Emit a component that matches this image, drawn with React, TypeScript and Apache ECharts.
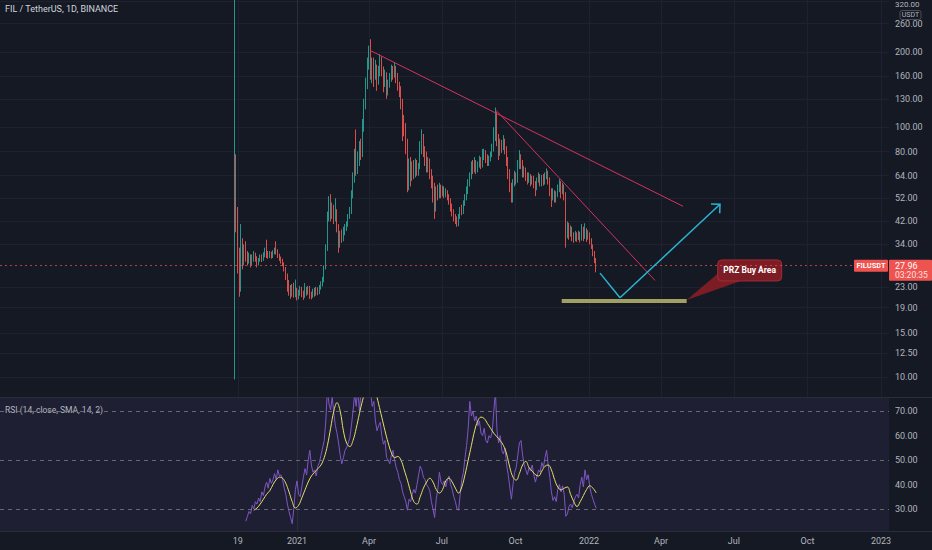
import React, { useEffect, useRef } from "react";
import * as echarts from "echarts";

// ---- data (days counted from 2021-01-01) ----
const startDay = -78; // 2020-10-15, first candle
const stepDays = 2; // each candle covers two days
// [open, close, low, high]
const candles: number[][] = [
  [10, 75, 9.8, 340], [75, 45, 38, 78], [45, 30, 26, 48], [30, 25, 21, 33], [25, 34, 22, 41],
  [34, 30, 27, 36], [30, 32, 28, 34], [32, 31, 29, 35], [31, 29.5, 28, 32], [29.5, 30.5, 28.5, 31.5],
  [30.5, 29, 27.5, 31], [29, 30, 28, 31], [30, 31, 29, 32], [31, 29.8, 29, 31.5], [29.8, 28.5, 27.5, 30.5],
  [28.5, 29.5, 28, 30], [29.5, 30.2, 29, 31], [30.2, 29.6, 28.9, 31], [29.6, 30.8, 29.2, 31.6], [30.8, 32, 30.2, 33],
  [32, 31, 30, 35.5], [31, 30.5, 29.8, 32], [30.5, 31.2, 30, 32], [31.2, 30.4, 29.8, 31.8], [30.4, 31.5, 30, 32.2],
  [31.5, 32.4, 31, 33], [32.4, 31.8, 31, 35], [31.8, 30.6, 30, 32.5], [30.6, 29.8, 29.2, 31.2], [29.8, 29.2, 28.5, 30.4],
  [29.2, 28.4, 27.8, 29.8], [28.4, 27.2, 26.5, 28.8], [27.2, 25.5, 24.5, 27.6], [25.5, 23.2, 22, 26], [23.2, 22.4, 21.2, 24.5],
  [22.4, 21.6, 20.6, 23.4], [21.6, 22.8, 21, 23.6], [22.8, 21.4, 20.8, 23.9], [21.4, 22.2, 20.9, 24.6], [22.2, 21, 20.3, 22.8],
  [21, 21.8, 20.5, 22.4], [21.8, 22.6, 21.2, 23.2], [22.6, 21.5, 20.9, 23], [21.5, 21.2, 20.4, 22.2], [21.2, 22.4, 20.8, 23.8],
  [22.4, 21.8, 21.2, 23], [21.8, 22.6, 21.4, 23.2], [22.6, 21.4, 20.6, 23.2], [21.4, 21.1, 20.5, 22], [21.1, 22.1, 20.8, 22.6],
  [22.1, 21.5, 21, 22.8], [21.5, 22.3, 21.2, 23], [22.3, 21.8, 21.3, 22.9], [21.8, 22.8, 21.5, 23.4], [22.8, 23.6, 22.4, 24.2],
  [23.6, 24.5, 23.1, 25.2], [24.5, 27.5, 24, 28], [27.5, 33, 27, 34], [33, 44, 32, 46], [44, 50, 42, 53],
  [50, 45, 42, 54], [45, 47, 43, 50], [47, 43, 41, 49], [43, 46, 42, 52], [46, 40, 38, 47],
  [40, 34, 31.5, 41], [34, 37, 33, 38.5], [37, 36, 34.5, 39], [36, 38, 35, 40], [38, 39.5, 37, 41],
  [39.5, 41, 38.5, 42], [41, 44, 40, 45], [44, 46, 43, 48], [46, 54, 45, 56], [54, 62, 52, 66],
  [62, 78, 60, 82], [78, 68, 64, 98], [68, 72, 65, 80], [72, 80, 70, 88], [80, 78, 74, 90],
  [78, 100, 76, 108], [100, 122, 96, 130], [122, 150, 118, 158], [150, 178, 142, 190], [178, 200, 170, 212],
  [200, 165, 155, 225], [165, 180, 150, 190], [180, 160, 145, 190], [160, 172, 155, 186], [172, 152, 140, 178],
  [152, 165, 148, 176], [165, 185, 160, 196], [185, 170, 160, 192], [170, 150, 138, 175], [150, 160, 145, 170],
  [160, 140, 130, 166], [140, 148, 134, 155], [148, 158, 144, 165], [158, 170, 152, 178], [170, 162, 155, 176],
  [162, 172, 158, 182], [172, 160, 150, 176], [160, 150, 140, 165], [150, 142, 132, 152], [142, 125, 118, 146],
  [125, 108, 88, 130], [108, 100, 92, 112], [100, 88, 78, 104], [88, 62, 55, 90], [62, 72, 56, 75],
  [72, 64, 58, 76], [64, 70, 61, 73], [70, 66, 62, 74], [66, 72, 63, 75], [72, 68, 64, 74],
  [68, 70, 64, 72], [70, 80, 68, 88], [80, 92, 78, 98], [92, 80, 76, 94], [80, 76, 70, 84],
  [76, 70, 66, 80], [70, 73, 66, 76], [73, 66, 62, 75], [66, 62, 57, 68], [62, 58, 50, 64],
  [58, 48, 43, 60], [48, 56, 46, 58], [56, 54, 51, 59], [54, 57, 52, 60], [57, 55, 52, 59],
  [55, 56.5, 53, 58.5], [56.5, 54, 52, 58], [54, 55.5, 52.5, 57], [55.5, 53, 51, 56], [53, 51, 49, 54],
  [51, 48, 46, 52], [48, 46, 44, 49.5], [46, 44, 42, 47], [44, 42.5, 41, 45], [42.5, 41.5, 40, 44],
  [41.5, 44, 40.2, 45], [44, 47, 43, 48], [47, 46, 44.5, 49], [46, 50, 45, 51], [50, 52, 48.5, 54],
  [52, 56, 51, 58], [56, 60, 54, 62], [60, 64, 58, 66], [64, 70, 62, 73], [70, 68, 65, 74],
  [68, 72, 66, 76], [72, 67, 65, 74], [67, 71, 66, 73], [71, 74, 69, 77], [74, 70, 68, 76],
  [70, 76, 69, 82], [76, 79, 74, 82], [79, 75, 72, 81], [75, 72, 70, 78], [72, 75, 70, 77],
  [75, 78, 73, 80], [78, 82, 76, 86], [82, 92, 80, 100], [92, 110, 88, 120], [110, 90, 84, 115],
  [90, 80, 74, 94], [80, 86, 77, 90], [86, 83, 79, 89], [83, 88, 81, 93], [88, 82, 78, 90],
  [82, 74, 70, 84], [74, 66, 62, 76], [66, 58, 55, 68], [58, 54, 50, 60], [54, 60, 50, 62],
  [60, 64, 58, 67], [64, 62, 59, 66], [62, 70, 60, 74], [70, 76, 68, 81], [76, 72, 68, 78],
  [72, 66, 63, 74], [66, 68, 63, 70], [68, 64, 61, 69], [64, 62, 59, 66], [62, 64, 60, 66],
  [64, 60, 58, 65], [60, 62.5, 59, 64], [62.5, 60, 57, 64], [60, 57, 53, 61], [57, 62, 56, 63],
  [62, 64, 60, 66], [64, 60, 58, 65], [60, 63, 58, 64.5], [63, 61, 58.5, 65], [61, 64, 59, 66],
  [64, 66, 62, 68.5], [66, 62, 59, 67], [62, 56, 53, 63], [56, 53, 48, 57], [53, 55, 51, 57],
  [55, 52, 50, 56], [52, 54, 50, 55.5], [54, 57, 52.5, 59], [57, 60, 55, 62], [60, 56, 52, 61],
  [56, 58, 54, 60], [58, 54, 51, 59], [54, 38, 33, 55], [38, 40, 36, 42], [40, 38, 35.5, 41.5],
  [38, 39, 36.5, 40.5], [39, 37, 35, 40], [37, 36, 34.5, 38], [36, 37.5, 35, 38.5], [37.5, 36.2, 34.8, 38],
  [36.2, 37.5, 35.4, 38.6], [37.5, 36, 34.6, 38.2], [36, 38, 35.2, 41], [38, 36.5, 35, 40], [36.5, 38.5, 35.8, 41.3],
  [38.5, 36.5, 34.8, 39.5], [36.5, 37.5, 35.5, 38.8], [37.5, 35.5, 34, 38], [35.5, 33.5, 32.6, 36], [33.5, 31.5, 30.5, 34],
  [31.5, 29.5, 28.6, 32], [29.5, 27.96, 26.3, 30],
];
const lastPrice = 27.96;

// RSI(14), one value every 2 days, ending on the last candle
const rsiStep = 2;
const rsiValues = [
  25, 27, 29, 28, 31.5, 30, 33, 32, 34.5, 33,
  37, 35.5, 39, 41, 38.5, 42.5, 40.5, 42, 44.5, 42,
  46, 43.5, 44, 42, 38.5, 36, 32, 29, 26.5, 24,
  30, 38, 41.5, 36, 35, 39, 43, 46.5, 44, 50,
  54, 48, 45, 46, 43.5, 47.5, 49, 52, 55, 58,
  66, 79, 73, 70.5, 76, 69, 64, 61, 57, 52,
  48.5, 51, 54, 55, 57, 59, 64, 70, 77, 72,
  80, 70, 78, 81, 79, 83, 85, 84, 78, 72,
  74, 66, 62, 64, 65.5, 60, 56.5, 58, 51, 50,
  48.5, 52, 54, 50, 47, 45, 42, 40.5, 37, 35,
  33, 29.5, 34, 33, 36, 38, 36.5, 40, 44, 47.5,
  46, 43, 42, 40, 39, 37.5, 33, 30, 26.5, 34,
  38, 45, 41, 40, 41.5, 39, 42, 43.5, 40, 38,
  35, 33, 30, 29.5, 36, 42, 45, 51, 56, 63,
  74, 68, 70, 66, 68, 64, 66, 61, 60, 63,
  58, 57, 60, 59, 61.5, 70, 78, 62, 57, 60,
  54, 52.5, 55, 48, 44, 39, 34, 40, 45, 47,
  52, 57, 58, 52, 48, 46, 44, 47, 45.5, 48,
  44, 41, 43.5, 46, 45, 49, 47, 51, 54, 48,
  43, 37, 33.5, 35, 33, 38, 40, 37, 39.5, 36,
  27, 28, 31, 32, 30.5, 33, 35, 36, 34.5, 40,
  43, 39, 46, 42, 44, 39, 36, 34, 32, 30.3,
];
// SMA(14) of RSI, one value every 4 days, ending on the last candle
const rsiMaStep = 4;
const rsiMaValues = [
  29.5, 30.4, 32, 34, 36, 37.5, 40, 42, 43, 42.6,
  40.5, 37, 33, 30.4, 31.5, 34.5, 37.8, 41, 43.5, 45,
  46.5, 48, 51, 56, 63, 70, 73.5, 70, 62, 57,
  55.5, 58, 63, 69, 74.5, 79, 82, 81, 78, 73,
  67.5, 62, 57, 53, 51, 51.5, 50, 46, 41.8, 37,
  33, 32, 35, 38.5, 41, 42.6, 41, 38, 36.5, 38,
  41.5, 42.6, 41, 38.5, 36.5, 39, 44, 50, 56, 62,
  66, 67.6, 67, 65, 63, 61, 59.5, 58, 56, 52.5,
  47, 43, 41.8, 44.5, 48, 49.5, 47, 45.5, 44, 43.5,
  45.5, 47.5, 48, 46, 42, 39, 37.8, 38.5, 39, 36,
  33, 31, 33, 35.5, 38, 39.5, 38.5, 36.6,
];

const priceTicks = [10, 12.5, 15, 19, 23, 34, 42, 52, 64, 80, 100, 130, 160, 200, 260];
const topPriceTick = 320; // sits at the very top edge
const rsiTicks = [30, 40, 50, 60, 70];
const rsiBands = [70, 50, 30];
const timeTickDays = [-74, 0, 90, 181, 273, 365, 455, 546, 638, 730];
const timeTickLabels = ["19", "2021", "Apr", "Jul", "Oct", "2022", "Apr", "Jul", "Oct", "2023"];

// drawings, as [day, price]
const upperTrend = [[91.25, 203], [482.5, 48.3]];
const lowerTrend = [[248.75, 117], [447.5, 24.4]];
const projection = [[378.75, 26.1], [403.75, 20.8], [528.75, 49.2]];
const przZone = [[330.9, 20.2], [487.1, 20.2]];
const przText = "PRZ Buy Area";
const titleText = "FIL / TetherUS, 1D, BINANCE";
const rsiText = "RSI (14, close, SMA, 14, 2)";
const symbolText = "FILUSDT";
const countdownText = "03:20:35";

const BG = "#151924";
const GRID = "#1d2130";
const AXIS = "#2a2e39";
const LABEL = "#b2b5be";
const UP = "#26a69a";
const DOWN = "#ef5350";
const FONT = "Roboto, 'Liberation Sans', sans-serif";

export default function App() {
  const ref = useRef<HTMLDivElement>(null);
  useEffect(() => {
    if (!ref.current) return;
    const chart = echarts.init(ref.current, null, { renderer: "svg" });
    const lastDay = startDay + (candles.length - 1) * stepDays;
    const candleData = candles.map((c, i) => [startDay + i * stepDays, c[0], c[1], c[2], c[3]]);
    const rsiData = rsiValues.map((v, k) => [lastDay - (rsiValues.length - 1 - k) * rsiStep, v]);
    const rsiMaData = rsiMaValues.map((v, k) => [lastDay - (rsiMaValues.length - 1 - k) * rsiMaStep, v]);
    const xMin = -371.25;
    const xMax = 740;
    const timeFmt = (v: number) => {
      const i = timeTickDays.indexOf(Math.round(v));
      return i >= 0 ? timeTickLabels[i] : "";
    };
    const option: any = {
      animation: false,
      backgroundColor: BG,
      textStyle: { fontFamily: FONT },
      grid: [
        { left: 0, top: 0, width: 889, height: 397 },
        { left: 0, top: 398, width: 889, height: 133, show: true, backgroundColor: "rgba(126,87,194,0.1)", borderWidth: 0 },
      ],
      xAxis: [
        {
          type: "value", gridIndex: 0, min: xMin, max: xMax,
          axisLabel: { show: false }, axisLine: { show: false },
          axisTick: { show: false, customValues: timeTickDays },
          splitLine: { show: true, lineStyle: { color: GRID, width: 1 } },
        },
        {
          type: "value", gridIndex: 1, min: xMin, max: xMax,
          axisLabel: { customValues: timeTickDays, formatter: timeFmt, color: LABEL, fontSize: 9, margin: 5 },
          axisLine: { show: true, lineStyle: { color: AXIS } },
          axisTick: { show: false, customValues: timeTickDays },
          splitLine: { show: true, lineStyle: { color: GRID, width: 1 } },
        },
      ],
      yAxis: [
        {
          type: "log", gridIndex: 0, position: "right", min: 8.34, max: 322.9,
          axisLabel: { customValues: priceTicks, formatter: (v: number) => v.toFixed(2), color: LABEL, fontSize: 9, margin: 6 },
          axisTick: { show: false, customValues: [...priceTicks, topPriceTick] },
          axisLine: { show: true, lineStyle: { color: AXIS } },
          splitLine: { show: true, lineStyle: { color: GRID, width: 1 } },
        },
        {
          type: "value", gridIndex: 1, position: "right", min: 21, max: 75.4,
          axisLabel: { customValues: rsiTicks, formatter: (v: number) => v.toFixed(2), color: LABEL, fontSize: 9, margin: 6 },
          axisTick: { show: false, customValues: rsiTicks },
          axisLine: { show: true, lineStyle: { color: AXIS } },
          splitLine: { show: false },
        },
      ],
      series: [
        {
          type: "candlestick", xAxisIndex: 0, yAxisIndex: 0,
          data: candleData, encode: { x: 0, y: [1, 2, 3, 4] },
          barWidth: 0.6,
          itemStyle: { color: UP, color0: DOWN, borderColor: UP, borderColor0: DOWN, borderWidth: 0.9 },
          markLine: {
            silent: true, symbol: ["none", "none"], label: { show: false },
            data: [
              { yAxis: lastPrice, lineStyle: { color: DOWN, type: [2, 3], width: 1, opacity: 0.7 } },
              [{ coord: upperTrend[0], lineStyle: { color: "#d4325f", width: 1, type: "solid" } }, { coord: upperTrend[1] }],
              [{ coord: lowerTrend[0], lineStyle: { color: "#d4325f", width: 1, type: "solid" } }, { coord: lowerTrend[1] }],
              [{ coord: projection[0], lineStyle: { color: "#28b4d2", width: 1.5, type: "solid" } }, { coord: projection[1] }],
              [{ coord: projection[1], lineStyle: { color: "#28b4d2", width: 1.5, type: "solid" } }, { coord: projection[2] }],
              [{ coord: przZone[0], lineStyle: { color: "#a29f62", width: 4, type: "solid", cap: "butt" } }, { coord: przZone[1] }],
            ],
          },
        },
        {
          type: "line", xAxisIndex: 1, yAxisIndex: 1, data: rsiData,
          showSymbol: false, lineStyle: { color: "#7e57c2", width: 1 },
          markLine: {
            silent: true, symbol: ["none", "none"], label: { show: false },
            lineStyle: { color: "#787b86", type: [4, 4], width: 1, opacity: 0.8 },
            data: rsiBands.map((b) => ({ yAxis: b })),
          },
        },
        {
          type: "line", xAxisIndex: 1, yAxisIndex: 1, data: rsiMaData,
          showSymbol: false, smooth: 0.4, lineStyle: { color: "#e8df6a", width: 1 },
        },
      ],
    };
    chart.setOption(option);

    const px = (p: number[]) => chart.convertToPixel({ xAxisIndex: 0, yAxisIndex: 0 }, p) as number[];
    const tip = px(projection[2]);
    const prev = px(projection[1]);
    const ang = Math.atan2(prev[1] - tip[1], prev[0] - tip[0]);
    const arm = 9;
    const a1 = [tip[0] + arm * Math.cos(ang - Math.PI / 4), tip[1] + arm * Math.sin(ang - Math.PI / 4)];
    const a2 = [tip[0] + arm * Math.cos(ang + Math.PI / 4), tip[1] + arm * Math.sin(ang + Math.PI / 4)];
    const priceY = px([lastDay, lastPrice])[1];
    const anchor = px(przZone[1]);
    const boxX = anchor[0] + 31;
    const boxY = anchor[1] - 41;

    chart.setOption({
      graphic: [
        { type: "text", left: 5, top: 4, style: { text: titleText, fill: "#d1d4dc", font: `9px ${FONT}` } },
        { type: "text", left: 5, top: 405, style: { text: rsiText, fill: LABEL, font: `8.5px ${FONT}` } },
        { type: "line", shape: { x1: 0, y1: 397.5, x2: 932, y2: 397.5 }, style: { stroke: AXIS, lineWidth: 1 } },
        { type: "line", shape: { x1: 889, y1: 531.5, x2: 932, y2: 531.5 }, style: { stroke: AXIS, lineWidth: 1 } },
        { type: "text", x: 895, y: 0.5, style: { text: topPriceTick.toFixed(2), fill: LABEL, font: `8px ${FONT}`, verticalAlign: "top" } },
        { type: "rect", shape: { x: 900, y: 10.5, width: 21, height: 9, r: 2 }, style: { fill: BG, stroke: "#4a4e5a", lineWidth: 1 } },
        { type: "text", x: 910.5, y: 15, style: { text: "USDT", fill: LABEL, font: `7px ${FONT}`, align: "center", verticalAlign: "middle" } },
        { type: "polyline", shape: { points: [a1, tip, a2] }, style: { stroke: "#28b4d2", lineWidth: 1.5, fill: "none" } },
        // price tag
        { type: "rect", shape: { x: 889, y: priceY - 6, width: 43, height: 21, r: 1 }, style: { fill: DOWN } },
        { type: "text", x: 895, y: priceY + 0.5, style: { text: lastPrice.toFixed(2), fill: "#ffffff", font: `9px ${FONT}`, verticalAlign: "middle" } },
        { type: "text", x: 895, y: priceY + 9.5, style: { text: countdownText, fill: "#ffe0e0", font: `8.5px ${FONT}`, verticalAlign: "middle" } },
        { type: "rect", shape: { x: 854, y: priceY - 6, width: 34, height: 12, r: 1 }, style: { fill: DOWN } },
        { type: "text", x: 871, y: priceY, style: { text: symbolText, fill: "#ffffff", font: `bold 7.5px ${FONT}`, align: "center", verticalAlign: "middle" } },
        // callout
        {
          type: "polygon",
          shape: { points: [[anchor[0], anchor[1] - 1], [anchor[0] + 33, anchor[1] - 29], [anchor[0] + 54, anchor[1] - 20]] },
          style: { fill: "#7c1d26" },
        },
        { type: "rect", shape: { x: boxX, y: boxY, width: 64, height: 21, r: 4 }, style: { fill: "#7c1d26", stroke: "#a52a35", lineWidth: 1 } },
        { type: "text", x: boxX + 32, y: boxY + 10.5, style: { text: przText, fill: "#ffffff", font: `bold 8.5px ${FONT}`, align: "center", verticalAlign: "middle" } },
      ],
    });
    return () => chart.dispose();
  }, []);
  return (
    <div
      ref={ref}
      style={{ position: "fixed", left: 0, top: 0, width: 932, height: 550, background: BG }}
    />
  );
}
